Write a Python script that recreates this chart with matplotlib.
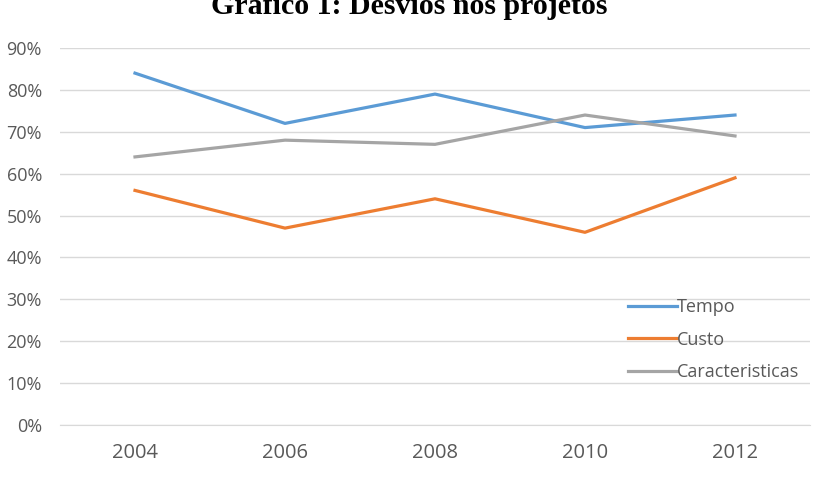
import matplotlib.pyplot as plt

# dados
anos = ['2004', '2006', '2008', '2010', '2012']
tempo = [0.84, 0.72, 0.79, 0.71, 0.74]
custo = [0.56, 0.47, 0.54, 0.46, 0.59]
caracteristicas = [0.64, 0.68, 0.67, 0.74, 0.69]

plt.rcParams['font.family'] = ['Open Sans', 'DejaVu Sans']

fig = plt.figure(figsize=(8.14, 4.83), dpi=100)
ax = fig.add_axes([60 / 814, 1 - 425 / 483, 750 / 814, (425 - 48) / 483])

x = range(len(anos))
ax.plot(x, tempo, color='#5B9BD5', lw=2.3, label='Tempo')
ax.plot(x, custo, color='#ED7D31', lw=2.3, label='Custo')
ax.plot(x, caracteristicas, color='#A5A5A5', lw=2.3, label='Caracteristicas')

ax.set_xlim(-0.5, len(anos) - 0.5)
ax.set_ylim(0, 0.9)
ax.set_yticks([i / 10 for i in range(10)])
ax.set_yticklabels([f'{i * 10}%' for i in range(10)])
ax.set_xticks(list(x))
ax.set_xticklabels(anos)
ax.tick_params(colors='#595959', length=0)
ax.tick_params(axis='y', labelsize=13, pad=13)
ax.tick_params(axis='x', labelsize=14.5, pad=13)
ax.grid(axis='y', color='#D9D9D9', lw=1)
ax.set_axisbelow(True)
for s in ['top', 'right', 'left']:
    ax.spines[s].set_visible(False)
ax.spines['bottom'].set_color('#D9D9D9')

leg = ax.legend(loc='upper left', bbox_to_anchor=(0.745, 0.36), frameon=False,
                fontsize=13, handlelength=2.7, handletextpad=0.0,
                labelspacing=0.8, borderpad=0)
for t in leg.get_texts():
    t.set_color('#595959')

fig.text(0.503, 0.971, 'Gráfico 1: Desvios nos projetos', ha='center', va='baseline',
         fontsize=21.5, fontweight='bold', family='Liberation Serif')

fig.savefig('out.png', dpi=100)
